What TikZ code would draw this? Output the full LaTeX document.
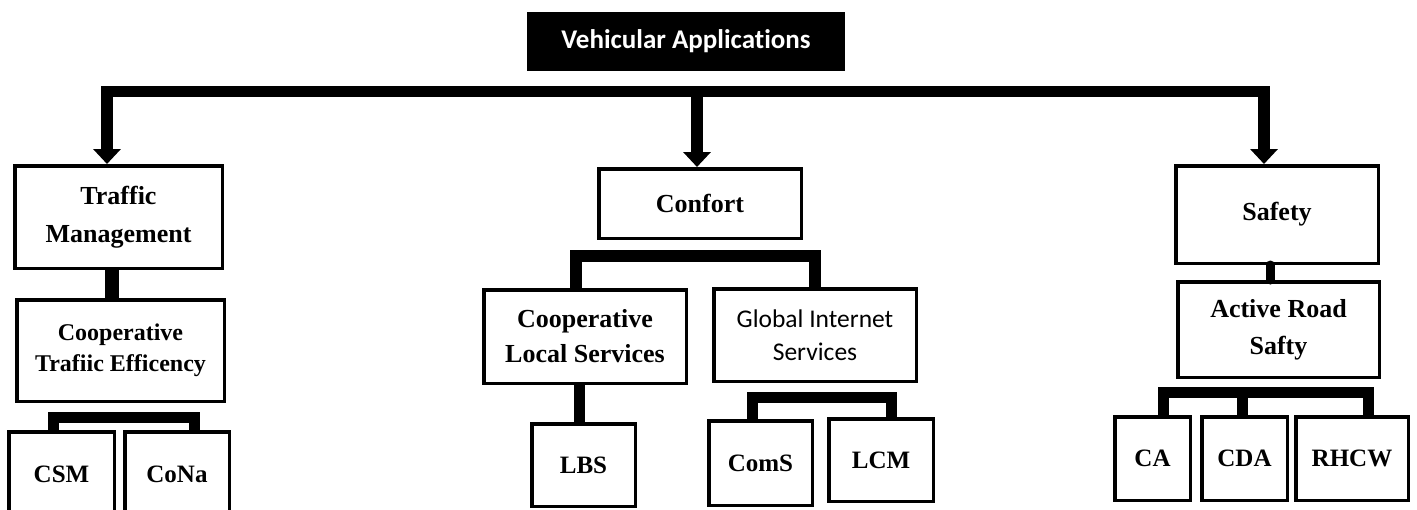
\documentclass[tikz,border=0pt]{standalone}
\usepackage{fontspec}
\setmainfont{Liberation Serif}
\newfontfamily\headfont[Ligatures=NoCommon]{Carlito}
\usetikzlibrary{arrows.meta}

\begin{document}
\begin{tikzpicture}[x=1pt,y=-1pt,
  box/.style 2 args={draw=black, line width=3.5pt, fill=white, inner sep=0pt,
    align=center, minimum width=#1pt, minimum height=#2pt,
    font=\bfseries\fontsize{26}{38}\selectfont},
  leaf/.style={font=\bfseries\fontsize{25}{30}\selectfont},
  bus/.style={line width=11.5pt, line join=miter, line cap=butt},
  link/.style={line width=11pt, line join=miter, line cap=butt},
  tip/.style={-{Triangle[width=27pt,length=15pt]}},
]
\useasboundingbox (0,0) rectangle (1417,509);
\clip (0,0) rectangle (1417,509);

% root
\node[fill=black, text=white, inner sep=0pt, minimum width=318pt, minimum height=59pt,
      font=\headfont\bfseries\fontsize{27}{32}\selectfont] (root) at (686,41.5) {Vehicular Applications};

% first level
\node[box={207.5}{102.5}] (tm) at (118.5,217) {Traffic\\Management};
\node[box={202.5}{69.5}]  (cf) at (700,203.5) {Confort};
\node[box={202.5}{97.5}]  (sf) at (1277,214.5) {Safety};

% second level
\node[box={207.5}{101.5}, font=\bfseries\fontsize{24}{31}\selectfont] (cte) at (120.5,350.5) {Cooperative\\Trafiic Efficency};
\node[box={202.5}{93.5}, font=\bfseries\fontsize{26}{35}\selectfont] (cls) at (585,336.5) {Cooperative\\Local Services};
\node[box={202.5}{92.5}, font=\headfont\fontsize{25.5}{33}\selectfont] (gis) at (815,335) {Global Internet\\Services};
\node[box={201.5}{95.5}, font=\bfseries\fontsize{26}{37}\selectfont] (ars) at (1278.5,329.5) {Active Road\\Safty};

% leaves
\node[box={105.5}{84.5}, leaf] (csm)  at (61.5,474)  {CSM};
\node[box={104.5}{84.5}, leaf] (cona) at (177,474)   {CoNa};
\node[box={103.5}{82.5}, leaf] (lbs)  at (583.5,465) {LBS};
\node[box={103.5}{84.5}, leaf] (coms) at (760.5,463) {ComS};
\node[box={104.5}{82.5}, leaf] (lcm)  at (881,460)   {LCM};
\node[box={75.5}{83.5},  leaf] (ca)   at (1152.5,458.5) {CA};
\node[box={85.5}{83.5},  leaf] (cda)  at (1244.5,458.5) {CDA};
\node[box={112.5}{83.5}, leaf] (rhcw) at (1352,458.5)   {RHCW};

% main distribution bus
\coordinate (busL) at (107,91.5);
\coordinate (busM) at (697,91.5);
\coordinate (busR) at (1264,91.5);
\draw[bus, {Triangle[width=27pt,length=15pt]}-{Triangle[width=27pt,length=15pt]}]
  (busL |- tm.north) -- (busL) -- (busR) -- (busR |- sf.north);
\draw[bus, tip] (busM) -- (busM |- cf.north);

% traffic management branch
\coordinate (tmx) at (112,0);
\draw[line width=14pt] (tmx |- tm.south) -- (tmx |- cte.north);
\coordinate (tbL) at (53,417);
\coordinate (tbR) at (194.5,417);
\draw[link] (tbL |- csm.north) -- (tbL) -- (tbR) -- (tbR |- cona.north);

% comfort branch
\coordinate (cbL) at (575.5,255.5);
\coordinate (cbR) at (814.5,255.5);
\draw[link, line width=12pt] (cbL |- cls.north) -- (cbL) -- (cbR) -- (cbR |- gis.north);
\coordinate (lbx) at (579.5,0);
\draw[link] (lbx |- cls.south) -- (lbx |- lbs.north);
\coordinate (gbL) at (752,397);
\coordinate (gbR) at (891.5,397);
\draw[link] (gbL |- coms.north) -- (gbL) -- (gbR) -- (gbR |- lcm.north);

% safety branch
\coordinate (sfx) at (1270,0);
\draw[line width=9pt, line cap=round] (sfx |- sf.south) -- (sfx |- ars.north);
\coordinate (abL) at (1163,392);
\coordinate (abM) at (1242.5,392);
\coordinate (abR) at (1368.5,392);
\draw[link] (abL |- ca.north) -- (abL) -- (abR) -- (abR |- rhcw.north);
\draw[link] (abM) -- (abM |- cda.north);
\end{tikzpicture}
\end{document}
